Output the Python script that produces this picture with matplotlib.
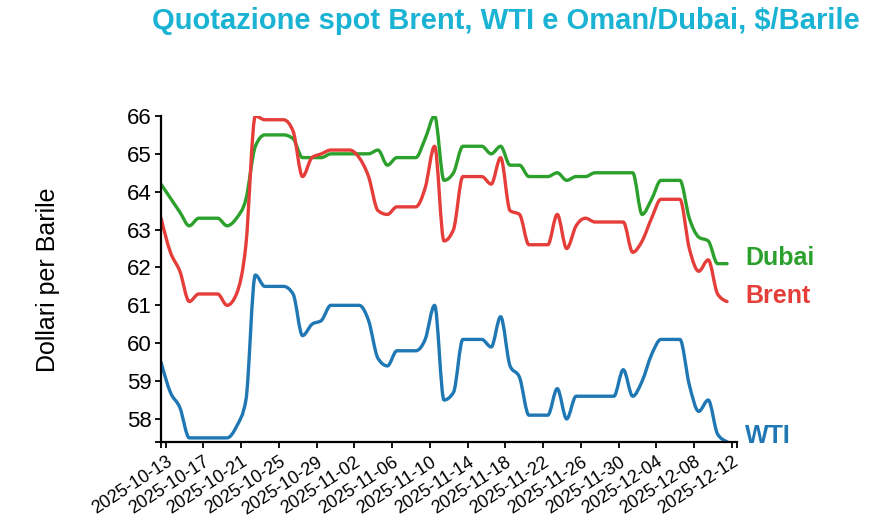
import numpy as np
import pandas as pd
import matplotlib
matplotlib.use("Agg")
import matplotlib.pyplot as plt
import matplotlib.dates as mdates
from matplotlib.path import Path
from matplotlib.patches import PathPatch

plt.rcParams["font.family"] = ["Liberation Sans", "DejaVu Sans"]

# daily quotes, 2025-10-13 .. 2025-12-12 (weekends carried forward)
dates = pd.date_range("2025-10-13", "2025-12-12", freq="D")

dubai = [64.2, 63.83, 63.46, 63.1, 63.3, 63.3, 63.3, 63.1, 63.3, 63.8,
         65.2, 65.5, 65.5, 65.5, 65.4, 64.9, 64.9, 64.9, 65.0, 65.0,
         65.0, 65.0, 65.0, 65.1, 64.7, 64.9, 64.9, 64.9, 65.4, 66.0,
         64.3, 64.5, 65.2, 65.2, 65.2, 65.0, 65.2, 64.7, 64.7, 64.4,
         64.4, 64.4, 64.5, 64.3, 64.4, 64.4, 64.5, 64.5, 64.5, 64.5,
         64.5, 63.4, 63.8, 64.3, 64.3, 64.3, 63.3, 62.8, 62.7, 62.1,
         62.1]

brent = [63.3, 62.4, 61.9, 61.1, 61.3, 61.3, 61.3, 61.0, 61.3, 62.6,
         66.0, 65.9, 65.9, 65.9, 65.6, 64.4, 64.9, 65.0, 65.1, 65.1,
         65.1, 64.9, 64.4, 63.5, 63.4, 63.6, 63.6, 63.6, 64.1, 65.2,
         62.7, 63.0, 64.4, 64.4, 64.4, 64.2, 64.9, 63.5, 63.4, 62.6,
         62.6, 62.6, 63.4, 62.5, 63.1, 63.3, 63.2, 63.2, 63.2, 63.2,
         62.4, 62.7, 63.3, 63.8, 63.8, 63.8, 62.5, 61.9, 62.2, 61.3,
         61.1]

wti = [59.5, 58.7, 58.3, 57.5, 57.5, 57.5, 57.5, 57.5, 57.8, 58.5,
       61.8, 61.5, 61.5, 61.5, 61.3, 60.2, 60.5, 60.6, 61.0, 61.0,
       61.0, 61.0, 60.6, 59.6, 59.4, 59.8, 59.8, 59.8, 60.1, 61.0,
       58.5, 58.7, 60.1, 60.1, 60.1, 59.9, 60.7, 59.4, 59.1, 58.1,
       58.1, 58.1, 58.8, 58.0, 58.6, 58.6, 58.6, 58.6, 58.6, 59.3,
       58.6, 59.0, 59.7, 60.1, 60.1, 60.1, 58.9, 58.2, 58.5, 57.6,
       57.4]

series_names = ["Dubai", "Brent", "WTI"]
series_values = [dubai, brent, wti]
series_colors = ["#2ca02c", "#e53e3a", "#1f77b4"]

tick_dates = pd.date_range("2025-10-13", "2025-12-12", freq="4D")
y_ticks = [58, 59, 60, 61, 62, 63, 64, 65, 66]


def monotone_path(x, y):
    # monotone cubic (d3 curveMonotoneX style) as bezier segments
    x = np.asarray(x, float)
    y = np.asarray(y, float)
    n = len(x)
    h = np.diff(x)
    s = np.diff(y) / h
    t = np.zeros(n)
    for i in range(1, n - 1):
        p = (s[i - 1] * h[i] + s[i] * h[i - 1]) / (h[i - 1] + h[i])
        t[i] = (np.sign(s[i - 1]) + np.sign(s[i])) * min(abs(s[i - 1]), abs(s[i]), 0.5 * abs(p))
    t[0] = (3 * s[0] - t[1]) / 2
    t[-1] = (3 * s[-1] - t[-2]) / 2
    verts = [(x[0], y[0])]
    codes = [Path.MOVETO]
    for i in range(n - 1):
        dx = h[i] / 3
        verts += [(x[i] + dx, y[i] + dx * t[i]),
                  (x[i + 1] - dx, y[i + 1] - dx * t[i + 1]),
                  (x[i + 1], y[i + 1])]
        codes += [Path.CURVE4] * 3
    return Path(verts, codes)


fig = plt.figure(figsize=(8.96, 5.24), dpi=100)
ax = fig.add_axes([0.1797, 0.1571, 0.6429, 0.6216])

x = mdates.date2num(dates - pd.Timedelta(hours=12))
x_left = x[0]
x_right = mdates.date2num(dates[-1]) + 0.56

for name, vals, color in zip(series_names, series_values, series_colors):
    patch = PathPatch(monotone_path(x, vals), fill=False, edgecolor=color,
                      linewidth=2.4, capstyle="round", joinstyle="round")
    ax.add_patch(patch)
    ax.annotate(name, xy=(x_right, vals[-1]), xytext=(6, 4), textcoords="offset points",
                ha="left", va="center", color=color, fontsize=18, fontweight="bold",
                annotation_clip=False)

ax.set_xlim(x_left, x_right)
ax.set_ylim(min(wti), max(brent))

ax.set_xticks(mdates.date2num(tick_dates))
ax.set_xticklabels([d.strftime("%Y-%m-%d") for d in tick_dates],
                   rotation=33, ha="right", rotation_mode="anchor", fontsize=13)
ax.set_xticks([x_left, x_right], minor=True)
ax.set_yticks(y_ticks)
ax.set_yticklabels([str(v) for v in y_ticks], fontsize=16)
ax.set_yticks([min(wti)], minor=True)

for side in ["top", "right"]:
    ax.spines[side].set_visible(False)
for side in ["left", "bottom"]:
    ax.spines[side].set_linewidth(1.6)
ax.tick_params(which="both", length=4.5, width=1.3, color="black")
ax.tick_params(axis="y", pad=2)
ax.tick_params(axis="x", pad=4)

fig.text(48 / 896, 1 - 280 / 524, "Dollari per Barile", rotation=90,
         ha="center", va="center", fontsize=18)
fig.text(506 / 896, 1 - 21 / 524, "Quotazione spot Brent, WTI e Oman/Dubai, $/Barile",
         ha="center", va="center", fontsize=21, fontweight="bold", color="#1ab3d3")

fig.savefig("out.png", dpi=100)
